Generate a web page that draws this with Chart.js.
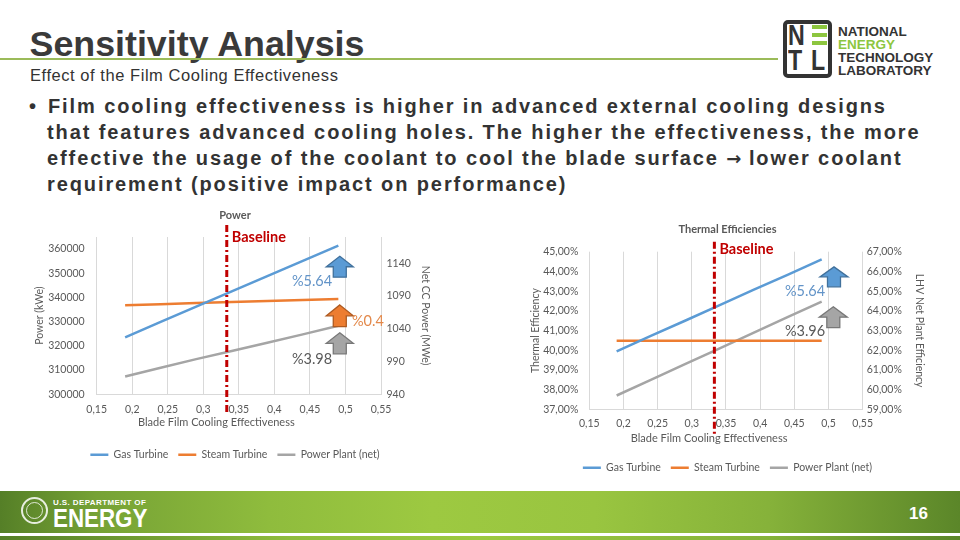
<!DOCTYPE html>
<html><head><meta charset="utf-8">
<script src="https://cdn.jsdelivr.net/npm/chart.js@4.4.1/dist/chart.umd.min.js"></script>
<style>
html,body{margin:0;padding:0;background:#fff;}
body{width:960px;height:540px;position:relative;overflow:hidden;font-family:'Liberation Sans',Arial,sans-serif;}
.abs{position:absolute;white-space:nowrap;}
#title{left:29.5px;top:23.5px;font-weight:bold;font-size:35.8px;line-height:40px;color:#3a3a3a;}
#rule{left:0;top:58px;width:778px;height:2px;background:#9bbb59;}
#subtitle{left:30px;top:65px;font-size:16.5px;line-height:20px;letter-spacing:0.55px;color:#333;}
.bl{font-weight:bold;font-size:20px;line-height:26px;letter-spacing:1.9px;color:#333;}
#footer{left:0;top:491px;width:960px;height:42px;background:linear-gradient(90deg,#557f27 0%,#76a235 10%,#8fbc3d 28%,#9dc941 45%,#99c540 62%,#86b23a 80%,#5b8629 100%);}
#footer2{left:0;top:536px;width:960px;height:4px;background:linear-gradient(90deg,#557f27 0%,#8fbc3d 30%,#9dc941 50%,#86b23a 80%,#5b8629 100%);}
.netl{font-weight:bold;font-size:13.5px;line-height:13px;color:#333;}
</style></head><body>
<div id="title" class="abs">Sensitivity Analysis</div>
<div id="rule" class="abs"></div>
<div id="subtitle" class="abs">Effect of the Film Cooling Effectiveness</div>

<!-- NETL logo -->
<div class="abs" style="left:783px;top:20px;width:49px;height:58px;border:4px solid #333;border-radius:5px;box-sizing:border-box;"></div>
<div class="abs" style="left:788px;top:21px;font-weight:bold;font-size:29px;line-height:29px;color:#333;transform:scaleX(0.8);transform-origin:left top;">N</div>
<div class="abs" style="left:812px;top:25px;width:15px;height:4px;background:#8dc63f;"></div>
<div class="abs" style="left:812px;top:33px;width:15px;height:4px;background:#8dc63f;"></div>
<div class="abs" style="left:812px;top:41px;width:15px;height:4px;background:#8dc63f;"></div>
<div class="abs" style="left:788px;top:46px;font-weight:bold;font-size:29px;line-height:29px;color:#333;transform:scaleX(0.8);transform-origin:left top;">T</div>
<div class="abs" style="left:811px;top:46px;font-weight:bold;font-size:29px;line-height:29px;color:#333;transform:scaleX(0.8);transform-origin:left top;">L</div>
<div class="abs netl" style="left:838px;top:25px;">NATIONAL</div>
<div class="abs netl" style="left:838px;top:38px;color:#8dc63f;">ENERGY</div>
<div class="abs netl" style="left:838px;top:51px;">TECHNOLOGY</div>
<div class="abs netl" style="left:838px;top:64px;">LABORATORY</div>

<!-- bullet text -->
<div class="abs bl" style="left:29px;top:93px;">•</div>
<div class="abs bl" style="left:48px;top:93px;">Film cooling effectiveness is higher in advanced external cooling designs</div>
<div class="abs bl" style="left:47px;top:119px;">that features advanced cooling holes. The higher the effectiveness, the more</div>
<div class="abs bl" style="left:47px;top:145px;">effective the usage of the coolant to cool the blade surface <span style="font-family:'DejaVu Sans';font-size:18px;letter-spacing:0">→</span> lower coolant</div>
<div class="abs bl" style="left:47px;top:171px;">requirement (positive impact on performance)</div>

<!-- charts -->
<div class="abs" style="left:25px;top:205px;width:420px;height:265px;"><canvas id="c1"></canvas></div>
<div class="abs" style="left:515px;top:218px;width:425px;height:265px;"><canvas id="c2"></canvas></div>

<!-- footer -->
<div id="footer" class="abs"></div>
<div id="footer2" class="abs"></div>
<div class="abs" style="left:21px;top:497px;width:27px;height:27px;border:2px solid rgba(255,255,255,0.85);border-radius:50%;box-sizing:border-box;"></div>
<div class="abs" style="left:26px;top:502px;width:17px;height:17px;border:1.5px solid rgba(255,255,255,0.8);border-radius:50%;box-sizing:border-box;"></div>
<div class="abs" style="left:53px;top:499px;font-weight:bold;font-size:8px;line-height:8px;color:#fff;letter-spacing:0.4px;">U.S. DEPARTMENT OF</div>
<div class="abs" style="left:53px;top:506px;font-weight:bold;font-size:26px;line-height:24px;color:#fff;transform:scaleX(0.86);transform-origin:left top;">ENERGY</div>
<div class="abs" style="left:909px;top:504px;font-weight:bold;font-size:17px;line-height:20px;color:#fff;">16</div>

<script>
// ---- data ----
const xEff = [0.19, 0.24, 0.29, 0.34, 0.39, 0.44, 0.49];
const seriesNames = ['Gas Turbine', 'Steam Turbine', 'Power Plant (net)'];
const seriesColors = ['#5B9BD5', '#ED7D31', '#A5A5A5'];
// Power chart (kWe on left axis, MWe on right axis)
const gasPower   = [323500, 329900, 336200, 342500, 348800, 355100, 361400];
const steamPower = [336800, 337230, 337670, 338100, 338530, 338970, 339400];
const netPower   = [967, 980.5, 993.5, 1006, 1018.6, 1031.3, 1044.6];
// Thermal efficiency chart (% on left axis, % on right axis)
const gasEff   = [39.95, 40.73, 41.50, 42.28, 43.06, 43.83, 44.61];
const steamEff = [40.48, 40.48, 40.48, 40.48, 40.48, 40.48, 40.48];
const netEff   = [59.71, 60.50, 61.30, 62.09, 62.88, 63.68, 64.47];
const baselineEff = 0.333;
// axes
const xAxisRange   = {min: 0.15, max: 0.55, step: 0.05};
const powerLRange  = {min: 300000, max: 365000, step: 10000};
const powerRRange  = {min: 940, max: 1180, step: 50};
const effLRange    = {min: 37, max: 45, step: 1};
const effRRange    = {min: 59, max: 67, step: 1};
// change annotations (data coordinates on x / left axis)
const powerArrows = [
  {x: 0.492, top: 357000, bottom: 348400, color: 0},
  {x: 0.492, top: 336900, bottom: 327900, color: 1},
  {x: 0.492, top: 325400, bottom: 316700, color: 2}
];
const powerLabels = [
  {text: '%5.64', x: 0.453, y: 346800, color: 0},
  {text: '%0.4',  x: 0.5316, y: 330300, color: 1},
  {text: '%3.98', x: 0.453, y: 314300, color: 2}
];
const effArrows = [
  {x: 0.508, top: 44.23, bottom: 43.22, color: 0},
  {x: 0.507, top: 42.21, bottom: 41.15, color: 2}
];
const effLabels = [
  {text: '%5.64', x: 0.4656, y: 43.01, color: 0},
  {text: '%3.96', x: 0.4656, y: 40.94, color: 2}
];

// ---- styling ----
const FONT = "Lato, 'Open Sans', sans-serif";
Chart.defaults.font.family = FONT;
Chart.defaults.color = '#595959';
const arrowFill = ['#5B9BD5', '#ED7D31', '#A5A5A5'];
const arrowStroke = ['#41719C', '#AE5A21', '#787878'];
const labelColor = ['#6394c8', '#e3894b', '#595959'];

const annotPlugin = {
  id: 'annot',
  afterDatasetsDraw(chart, args, o) {
    const {ctx, chartArea, scales} = chart;
    const xs = scales.x, ys = scales.y;
    ctx.save();
    // baseline
    const bx = xs.getPixelForValue(o.baseline);
    ctx.strokeStyle = '#C00000';
    ctx.lineWidth = 3;
    ctx.setLineDash([7, 3, 2, 3]);
    ctx.beginPath();
    ctx.moveTo(bx, chartArea.top - o.above);
    ctx.lineTo(bx, chartArea.bottom + o.below);
    ctx.stroke();
    ctx.setLineDash([]);
    ctx.fillStyle = '#C00000';
    ctx.font = 'bold 14.5px ' + FONT;
    ctx.textBaseline = 'middle';
    ctx.textAlign = 'left';
    ctx.fillText('Baseline', bx + 5, chartArea.top + o.textDy);
    // arrows
    (o.arrows || []).forEach(a => {
      const cx = xs.getPixelForValue(a.x);
      const t = ys.getPixelForValue(a.top);
      const b = ys.getPixelForValue(a.bottom);
      const h = b - t, hw = o.arrowW / 2, sw = o.shaftW / 2, hh = h * 0.5;
      ctx.beginPath();
      ctx.moveTo(cx, t);
      ctx.lineTo(cx + hw, t + hh);
      ctx.lineTo(cx + sw, t + hh);
      ctx.lineTo(cx + sw, b);
      ctx.lineTo(cx - sw, b);
      ctx.lineTo(cx - sw, t + hh);
      ctx.lineTo(cx - hw, t + hh);
      ctx.closePath();
      ctx.fillStyle = arrowFill[a.color];
      ctx.fill();
      ctx.strokeStyle = arrowStroke[a.color];
      ctx.lineWidth = 1.3;
      ctx.stroke();
    });
    ctx.font = '14.5px ' + FONT;
    ctx.textAlign = 'center';
    (o.labels || []).forEach(l => {
      ctx.fillStyle = labelColor[l.color];
      ctx.fillText(l.text, xs.getPixelForValue(l.x), ys.getPixelForValue(l.y));
    });
    ctx.restore();
  }
};

function mk(arr, vals) { return arr.map((x, i) => ({x: x, y: vals[i]})); }
function ds(i, vals, axis) {
  return {label: seriesNames[i], data: mk(xEff, vals), yAxisID: axis,
    borderColor: seriesColors[i], backgroundColor: seriesColors[i],
    borderWidth: 2.5, pointRadius: 0, fill: false, tension: 0};
}
function commaNum(v) { return String(parseFloat(v.toFixed(2))).replace('.', ','); }
function stepTicks(range) {
  return function (scale) {
    const t = [];
    const n = Math.floor((range.max - range.min) / range.step + 1e-9);
    for (let i = 0; i <= n; i++) t.push({value: +(range.min + i * range.step).toFixed(6)});
    scale.ticks = t;
  };
}
function yAxis(pos, range, title, width, titlePad, tickPad, fmt) {
  return {
    type: 'linear', position: pos, min: range.min, max: range.max,
    grid: {display: false, drawTicks: false},
    border: {display: false},
    ticks: {stepSize: range.step, padding: tickPad, autoSkip: false, font: {size: 10.5}, color: '#595959', callback: fmt},
    title: {display: true, text: title, font: {size: 10.5}, color: '#595959', padding: {top: titlePad, bottom: 0}},
    afterBuildTicks: stepTicks(range),
    afterFit(s) { s.width = width; }
  };
}
// the axis title sits left of the plot centre in the original; trailing spaces shift the centred text
function xAxis(height, tickPad, titlePad, trail) {
  return {
    type: 'linear', position: 'bottom', min: xAxisRange.min, max: xAxisRange.max,
    grid: {color: '#d9d9d9', drawTicks: false, lineWidth: 1},
    border: {color: '#d9d9d9'},
    ticks: {stepSize: xAxisRange.step, padding: tickPad, autoSkip: false, maxRotation: 0, font: {size: 10.5}, color: '#595959', callback: v => commaNum(v)},
    title: {display: true, text: 'Blade Film Cooling Effectiveness' + ' '.repeat(trail), font: {size: 11}, color: '#595959', padding: {top: 0, bottom: titlePad}},
    afterBuildTicks: stepTicks(xAxisRange),
    afterFit(s) { s.height = height; }
  };
}
function baseOpts(titleText, titlePad) {
  return {
    responsive: true, maintainAspectRatio: false, animation: false, devicePixelRatio: 1,
    layout: {padding: {left: 5, right: 5, top: 0, bottom: 0}},
    plugins: {
      title: {display: true, text: titleText, color: '#595959', font: {size: 11, weight: 'bold'}, padding: titlePad},
      legend: {position: 'bottom', labels: {usePointStyle: true, pointStyle: 'line', pointStyleWidth: 18, boxHeight: 10, padding: 10, font: {size: 10.5}, color: '#595959'}},
      tooltip: {enabled: false}
    }
  };
}

// ---- Power chart ----
const o1 = baseOpts('Power', {top: 3.4, bottom: 15.4});
o1.scales = {
  x: xAxis(45.3, 9.5, 10.3, 16),
  y: yAxis('left', powerLRange, 'Power (kWe)', 66.7, 3.7, 12, v => String(v)),
  y1: yAxis('right', powerRRange, 'Net CC Power (MWe)', 59, 8.7, 5.5, v => String(v))
};
o1.plugins.annot = {baseline: baselineEff, above: 12, below: 18, textDy: 0, arrowW: 27, shaftW: 13, arrows: powerArrows, labels: powerLabels};
new Chart(document.getElementById('c1'), {
  type: 'line',
  data: {datasets: [ds(0, gasPower, 'y'), ds(1, steamPower, 'y'), ds(2, netPower, 'y1')]},
  options: o1,
  plugins: [annotPlugin]
});

// ---- Thermal efficiency chart ----
const pct = v => v.toFixed(2).replace('.', ',') + '%';
const o2 = baseOpts('Thermal Efficiencies', {top: 4.4, bottom: 16.1});
o2.scales = {
  x: xAxis(43, 7.5, 7.6, 12),
  y: yAxis('left', effLRange, 'Thermal Efficiency', 69.3, 9.7, 11, pct),
  y1: yAxis('right', effRRange, 'LHV Net Plant Efficiency', 72.3, 9.4, 4, pct)
};
o2.plugins.annot = {baseline: baselineEff, above: 10, below: 27, textDy: -2.5, arrowW: 28, shaftW: 13, arrows: effArrows, labels: effLabels};
new Chart(document.getElementById('c2'), {
  type: 'line',
  data: {datasets: [ds(0, gasEff, 'y'), ds(1, steamEff, 'y'), ds(2, netEff, 'y1')]},
  options: o2,
  plugins: [annotPlugin]
});
</script>
</body></html>
